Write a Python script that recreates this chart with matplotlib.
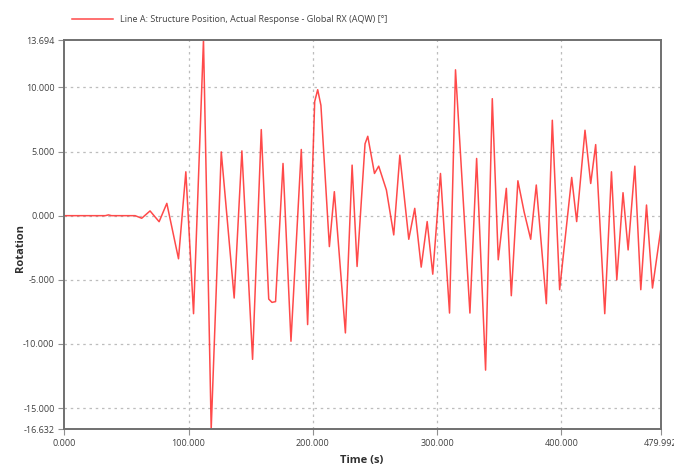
import matplotlib
matplotlib.use("Agg")
import matplotlib.pyplot as plt

# values (turning points of the response)
time_s = [0.0, 33.0, 35.5, 38.0, 57.0, 62.3, 69.0, 76.3, 82.5, 91.9,
          97.8, 104.0, 112.0, 118.2, 126.3, 136.7, 142.9, 151.5, 158.5, 164.5,
          167.1, 170.0, 176.0, 182.4, 190.7, 195.8, 201.5, 203.9, 206.5, 213.3,
          217.3, 226.2, 231.6, 235.6, 242.0, 244.2, 249.6, 253.0, 259.2, 265.1,
          270.0, 277.2, 282.0, 287.2, 292.0, 296.5, 302.7, 310.0, 314.8, 326.4,
          331.8, 339.0, 344.4, 349.2, 355.7, 359.7, 365.0, 370.0, 375.3, 379.8,
          387.9, 392.7, 398.6, 408.3, 412.3, 419.0, 423.6, 427.6, 434.9, 440.3,
          444.6, 449.6, 453.7, 459.1, 463.9, 468.5, 473.3, 479.992]
rotation = [0.0, 0.0, 0.06, 0.0, 0.0, -0.2, 0.37, -0.47, 0.96, -3.36,
            3.42, -7.64, 13.69, -16.63, 4.97, -6.42, 5.05, -11.2, 6.71, -6.5,
            -6.76, -6.7, 4.07, -9.79, 5.16, -8.49, 8.9, 9.82, 8.6, -2.41,
            1.87, -9.14, 3.94, -3.96, 5.6, 6.19, 3.29, 3.86, 2.0, -1.5,
            4.72, -1.84, 0.57, -4.01, -0.46, -4.56, 3.29, -7.59, 11.37, -7.59,
            4.46, -12.04, 9.12, -3.44, 2.13, -6.24, 2.72, 0.3, -1.84, 2.39,
            -6.86, 7.44, -5.77, 2.98, -0.46, 6.66, 2.51, 5.54, -7.64, 3.42,
            -5.0, 1.79, -2.67, 3.86, -5.77, 0.83, -5.64, -1.06]

x_ticks = [0.0, 100.0, 200.0, 300.0, 400.0, 479.992]
y_ticks = [-16.632, -15.0, -10.0, -5.0, 0.0, 5.0, 10.0, 13.694]
legend_label = "Line A: Structure Position, Actual Response - Global RX (AQW) [°]"

plt.rcParams["font.family"] = ["Open Sans", "DejaVu Sans"]

fig = plt.figure(figsize=(6.74, 4.68), dpi=100)
ax = fig.add_axes([0.0954, 0.0833, 0.885, 0.8312])

line, = ax.plot(time_s, rotation, color="#ff2a2a", lw=1.1, alpha=0.85)

ax.set_xlim(x_ticks[0], x_ticks[-1])
ax.set_ylim(y_ticks[0], y_ticks[-1])
ax.set_xticks(x_ticks)
ax.set_yticks(y_ticks)
ax.set_xticklabels([f"{v:.3f}" for v in x_ticks])
ax.set_yticklabels([f"{v:.3f}" for v in y_ticks])
ax.tick_params(labelsize=6.5, labelcolor="#404040", color="#909090",
               length=4, width=0.8, direction="out", pad=3)

# dotted grid only on the inner ticks
for xv in x_ticks[1:-1]:
    ax.axvline(xv, color="#bdbdbd", lw=0.9, ls=(0, (2, 3)), zorder=0)
for yv in y_ticks[1:-1]:
    ax.axhline(yv, color="#bdbdbd", lw=0.9, ls=(0, (2, 3)), zorder=0)

for s in ax.spines.values():
    s.set_color("#707070")
    s.set_linewidth(1.4)

fig.text(362 / 674, 1 - 461 / 468, "Time (s)", fontsize=8, fontweight="bold",
         color="#303030", ha="center", va="center")
fig.text(20 / 674, 1 - 248 / 468, "Rotation", fontsize=8, fontweight="bold",
         color="#303030", ha="center", va="center", rotation=90)

fig.legend([line], [legend_label], loc="upper left", bbox_to_anchor=(0.095, 0.985),
           frameon=False, fontsize=6.5, handlelength=4.5, labelcolor="#404040")

fig.savefig("out.png", dpi=100)
